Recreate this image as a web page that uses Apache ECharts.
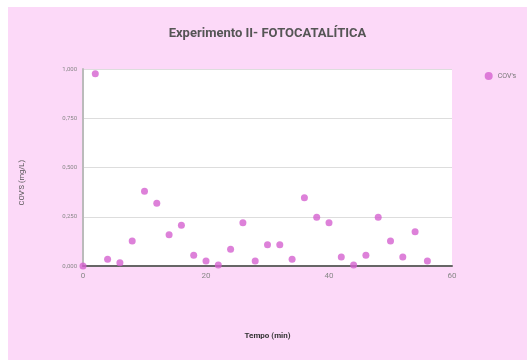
<!DOCTYPE html>
<html><head><meta charset="utf-8">
<script src="https://cdn.jsdelivr.net/npm/echarts@6/dist/echarts.min.js"></script>
<style>html,body{margin:0;padding:0;background:#fff;}#c{position:absolute;left:8px;top:7px;width:519px;height:353px;}</style>
</head><body><div id="c"></div>
<script>
var tempo = [0, 2, 4, 6, 8, 10, 12, 14, 16, 18, 20, 22, 24, 26, 28, 30, 32, 34, 36, 38, 40, 42, 44, 46, 48, 50, 52, 54, 56];
var covs = [0.000, 0.976, 0.034, 0.017, 0.127, 0.380, 0.319, 0.158, 0.207, 0.054, 0.025, 0.005, 0.085, 0.219, 0.025, 0.108, 0.108, 0.034, 0.347, 0.248, 0.219, 0.046, 0.005, 0.054, 0.248, 0.127, 0.046, 0.174, 0.025];
var seriesName = "COV's";
var titleText = "Experimento II- FOTOCATALÍTICA";
var xName = "Tempo (min)";
var yName = "COV'S (mg/L)";

var pts = tempo.map(function(t, i){ return [t, covs[i]]; });
var chart = echarts.init(document.getElementById('c'), null, {renderer:'canvas'});
chart.setOption({
  backgroundColor: '#fcd9f8',
  animation: false,
  title: {text: titleText, left: 'center', top: 15,
    textStyle: {fontFamily: 'Roboto', fontSize: 13, fontWeight: 'bold', color: '#555'}},
  legend: {right: 6, top: 60, itemWidth: 8, itemHeight: 8, itemGap: 4,
    icon: 'circle', textStyle: {fontFamily: 'Roboto', fontSize: 7, color: '#777'},
    data: [seriesName]},
  grid: {left: 75, top: 62, right: 75, bottom: 94, show: true, backgroundColor: '#fff', borderWidth: 0},
  xAxis: {type: 'value', min: 0, max: 60, interval: 20,
    name: xName, nameLocation: 'middle', nameGap: 66,
    nameTextStyle: {fontFamily: 'Roboto', fontSize: 8, fontWeight: 'bold', color: '#333'},
    axisLine: {show: true, lineStyle: {color: '#666', width: 2}},
    axisTick: {show: false},
    splitLine: {show: false},
    axisLabel: {fontFamily: 'Roboto', fontSize: 8, color: '#888', margin: 6}},
  yAxis: {type: 'value', min: 0, max: 1, interval: 0.25,
    axisLine: {show: true, lineStyle: {color: '#bbb', width: 2}},
    axisTick: {show: false},
    splitLine: {show: true, lineStyle: {color: '#ddd', width: 1}},
    axisLabel: {fontFamily: 'Roboto', fontSize: 6, color: '#888', margin: 6,
      formatter: function(v){ return v.toFixed(3).replace('.', ','); }}},
  graphic: [{type: 'text', left: 10, top: 153, rotation: Math.PI/2,
    style: {text: yName, font: '7.5px Roboto', fill: '#555'}}],
  series: [{name: seriesName, type: 'scatter', data: pts, symbolSize: 7,
    itemStyle: {color: '#d561cf'}}]
});
</script></body></html>
